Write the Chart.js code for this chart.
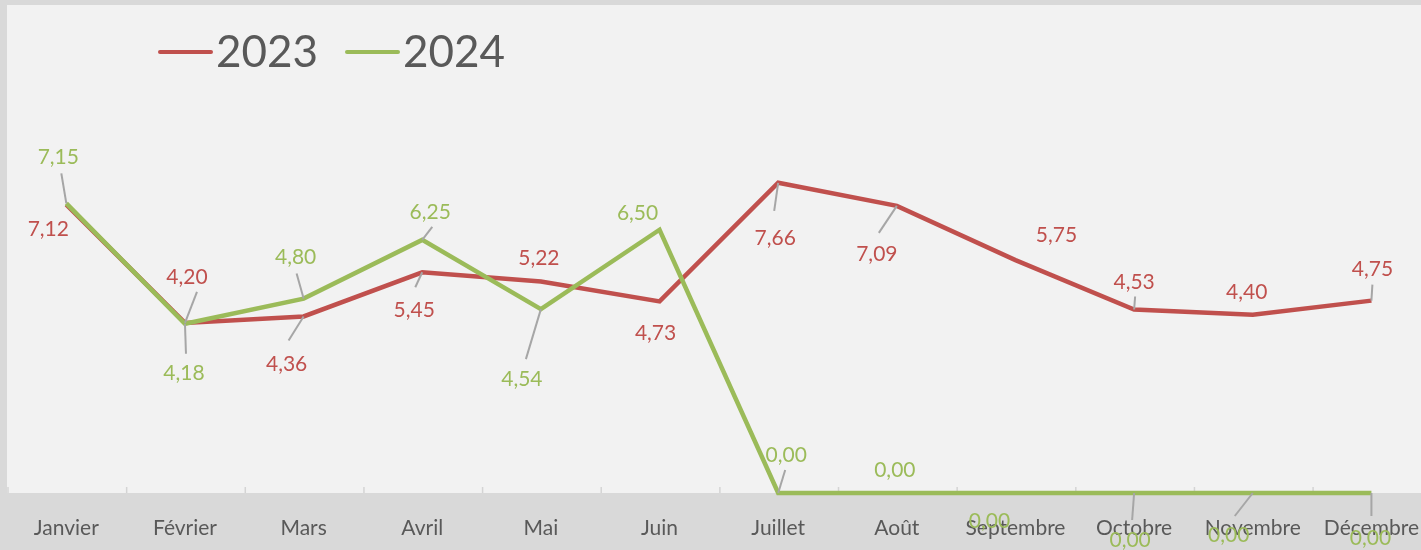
<!DOCTYPE html>
<html lang="fr">
  <head>
    <meta charset="utf-8" />
    <title>2023 / 2024</title>
    <style>
      * {
        margin: 0;
        padding: 0;
      }
      body {
        width: 1421px;
        height: 550px;
        overflow: hidden;
        background: #d9d9d9;
      }
      canvas {
        display: block;
      }
    </style>
  </head>
  <body>
    <canvas id="myChart" width="1434" height="550"></canvas>

    <script src="https://cdn.jsdelivr.net/npm/chart.js"></script>

    <script>
      const months = ["Janvier", "Février", "Mars", "Avril", "Mai", "Juin", "Juillet", "Août", "Septembre", "Octobre", "Novembre", "Décembre"];
      const values2023 = [7.12, 4.2, 4.36, 5.45, 5.22, 4.73, 7.66, 7.09, 5.75, 4.53, 4.4, 4.75];
      const values2024 = [7.15, 4.18, 4.8, 6.25, 4.54, 6.5, 0, 0, 0, 0, 0, 0];

      // label placement: [dx, dy] of the text centre, then the leader end (or null)
      const labelPos2023 = [
        [-18, 25, null], [2, -46, [12, -31]], [-17, 48, [-15, 24]], [-8, 38, [-7, 15]],
        [-2, -23, null], [-4, 32, null], [-3, 55, [-4, 28]], [-20, 48, [-18, 27]],
        [41, -25, null], [0, -27, [1, -13]], [-6, -23, null], [1, -31, [1, -16]],
      ];
      const labelPos2024 = [
        [-8, -46, [-5, -30]], [-1, 50, [1, 30]], [-8, -41, [-7, -25]], [8, -28, [10, -13]],
        [-19, 70, [-15, 50]], [-22, -17, null], [8, -38, [7, -23]], [-2, -23, null],
        [-26, 28, null], [-4, 47, [-2, 27]], [-24, 42, [-18, 23]], [-1, 45, [0, 23]],
      ];

      const red = "#c0504d";
      const green = "#9bbb59";
      const FONT = "Lato, 'Open Sans', sans-serif";

      // background: gray frame, light plot area, tick marks on the axis
      const backdrop = {
        id: "backdrop",
        beforeDraw(chart) {
          const { ctx, chartArea: { left, right, bottom } } = chart;
          ctx.save();
          ctx.fillStyle = "#d9d9d9";
          ctx.fillRect(0, 0, chart.width, chart.height);
          ctx.fillStyle = "#f2f2f2";
          ctx.fillRect(7, 5, chart.width - 7, bottom - 5);
          const step = (right - left) / months.length;
          ctx.strokeStyle = "#d4d4d4";
          ctx.lineWidth = 1.5;
          for (let i = 0; i <= months.length; i++) {
            const px = left + step * i + 1;
            ctx.beginPath();
            ctx.moveTo(px, bottom - 6);
            ctx.lineTo(px, bottom);
            ctx.stroke();
          }
          ctx.restore();
        },
      };

      // data labels with gray leader lines
      const valueLabels = {
        id: "valueLabels",
        afterDatasetsDraw(chart) {
          const { ctx } = chart;
          const placements = [labelPos2023, labelPos2024];
          ctx.save();
          chart.data.datasets.forEach((ds, di) => {
            const meta = chart.getDatasetMeta(di);
            meta.data.forEach((pt, i) => {
              const [dx, dy, lead] = placements[di][i];
              if (lead) {
                ctx.beginPath();
                ctx.strokeStyle = "#a6a6a6";
                ctx.lineWidth = 2;
                ctx.moveTo(pt.x, pt.y);
                ctx.lineTo(pt.x + lead[0], pt.y + lead[1]);
                ctx.stroke();
              }
              ctx.font = "21px " + FONT;
              ctx.fillStyle = ds.borderColor;
              ctx.textAlign = "center";
              ctx.textBaseline = "middle";
              ctx.fillText(ds.data[i].toFixed(2).replace(".", ","), pt.x + dx, pt.y + dy);
            });
          });
          ctx.restore();
        },
      };

      // legend drawn by hand, top left
      const topLegend = {
        id: "topLegend",
        afterDraw(chart) {
          const { ctx } = chart;
          const items = [
            { text: chart.data.datasets[0].label, color: red, x: 160 },
            { text: chart.data.datasets[1].label, color: green, x: 347 },
          ];
          ctx.save();
          items.forEach((it) => {
            ctx.beginPath();
            ctx.strokeStyle = it.color;
            ctx.lineWidth = 4;
            ctx.lineCap = "round";
            ctx.moveTo(it.x, 52);
            ctx.lineTo(it.x + 51, 52);
            ctx.stroke();
            ctx.font = "44px " + FONT;
            ctx.fillStyle = "#595959";
            ctx.textAlign = "left";
            ctx.textBaseline = "middle";
            ctx.fillText(it.text, it.x + 56, 53);
          });
          ctx.restore();
        },
      };

      const data = {
        labels: months,
        datasets: [
          {
            label: "2023",
            data: values2023,
            borderColor: red,
            backgroundColor: red,
            borderWidth: 4.5,
            pointRadius: 0,
            tension: 0,
            clip: 10,
            order: 2,
          },
          {
            label: "2024",
            data: values2024,
            borderColor: green,
            backgroundColor: green,
            borderWidth: 4.5,
            pointRadius: 0,
            tension: 0,
            clip: 10,
            order: 1,
          },
        ],
      };

      const config = {
        type: "line",
        data,
        options: {
          responsive: false,
          animation: false,
          layout: { padding: { left: 7, top: 7, right: 0, bottom: 0 } },
          plugins: {
            legend: { display: false },
            tooltip: { enabled: false },
          },
          scales: {
            x: {
              offset: true,
              grid: { display: false },
              border: { display: false },
              ticks: {
                color: "#595959",
                font: { family: FONT, size: 21 },
                padding: 15,
                maxRotation: 0,
                autoSkip: false,
              },
              afterFit(scale) {
                scale.height = 57;
              },
            },
            y: {
              display: false,
              min: 0,
              max: 12,
            },
          },
        },
        plugins: [backdrop, valueLabels, topLegend],
      };

      const myChart = new Chart(document.getElementById("myChart"), config);
    </script>
  </body>
</html>
